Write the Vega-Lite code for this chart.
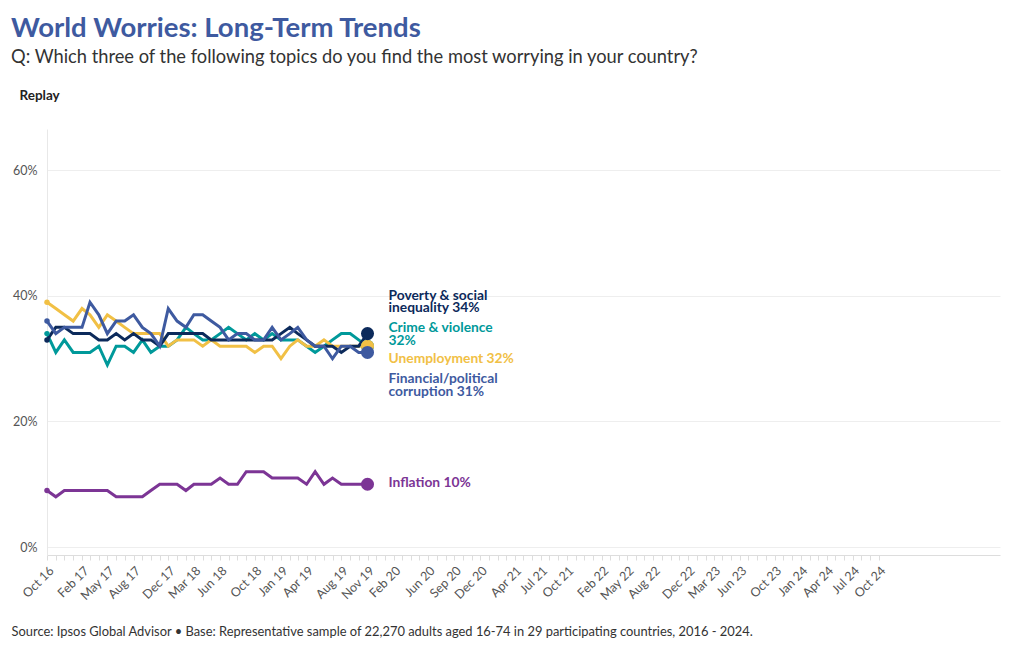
{
  "$schema": "https://vega.github.io/schema/vega-lite/v6.json",
  "width": 953,
  "height": 426,
  "padding": {"left": 11, "top": 14, "right": 10, "bottom": 5},
  "background": "white",
  "title": {
    "text": "World Worries: Long-Term Trends",
    "subtitle": "Q: Which three of the following topics do you find the most worrying in your country?",
    "anchor": "start",
    "frame": "bounds",
    "font": "Lato",
    "fontSize": 27.5,
    "fontWeight": "bold",
    "color": "#3e5aa0",
    "subtitleFont": "Lato",
    "subtitleFontSize": 18.3,
    "subtitleColor": "#333333",
    "subtitlePadding": 6.5,
    "offset": 22
  },
  "data": {
    "values": [
      {"date": "2016-10-01", "pov": 33, "crime": 34, "unemp": 39, "corr": 36, "infl": 9},
      {"date": "2016-11-01", "pov": 35, "crime": 31, "unemp": 38, "corr": 34, "infl": 8},
      {"date": "2016-12-01", "pov": 35, "crime": 33, "unemp": 37, "corr": 35, "infl": 9},
      {"date": "2017-01-01", "pov": 34, "crime": 31, "unemp": 36, "corr": 35, "infl": 9},
      {"date": "2017-02-01", "pov": 34, "crime": 31, "unemp": 38, "corr": 35, "infl": 9},
      {"date": "2017-03-01", "pov": 34, "crime": 31, "unemp": 37, "corr": 39, "infl": 9},
      {"date": "2017-04-01", "pov": 33, "crime": 32, "unemp": 35, "corr": 37, "infl": 9},
      {"date": "2017-05-01", "pov": 33, "crime": 29, "unemp": 37, "corr": 34, "infl": 9},
      {"date": "2017-06-01", "pov": 34, "crime": 32, "unemp": 36, "corr": 36, "infl": 8},
      {"date": "2017-07-01", "pov": 33, "crime": 32, "unemp": 35, "corr": 36, "infl": 8},
      {"date": "2017-08-01", "pov": 34, "crime": 31, "unemp": 34, "corr": 37, "infl": 8},
      {"date": "2017-09-01", "pov": 33, "crime": 33, "unemp": 34, "corr": 35, "infl": 8},
      {"date": "2017-10-01", "pov": 33, "crime": 31, "unemp": 34, "corr": 34, "infl": 9},
      {"date": "2017-11-01", "pov": 32, "crime": 32, "unemp": 34, "corr": 32, "infl": 10},
      {"date": "2017-12-01", "pov": 34, "crime": 32, "unemp": 32, "corr": 38, "infl": 10},
      {"date": "2018-01-01", "pov": 34, "crime": 33, "unemp": 33, "corr": 36, "infl": 10},
      {"date": "2018-02-01", "pov": 34, "crime": 35, "unemp": 33, "corr": 35, "infl": 9},
      {"date": "2018-03-01", "pov": 34, "crime": 34, "unemp": 33, "corr": 37, "infl": 10},
      {"date": "2018-04-01", "pov": 34, "crime": 33, "unemp": 32, "corr": 37, "infl": 10},
      {"date": "2018-05-01", "pov": 33, "crime": 33, "unemp": 33, "corr": 36, "infl": 10},
      {"date": "2018-06-01", "pov": 33, "crime": 34, "unemp": 32, "corr": 35, "infl": 11},
      {"date": "2018-07-01", "pov": 33, "crime": 35, "unemp": 32, "corr": 33, "infl": 10},
      {"date": "2018-08-01", "pov": 33, "crime": 34, "unemp": 32, "corr": 34, "infl": 10},
      {"date": "2018-09-01", "pov": 33, "crime": 33, "unemp": 32, "corr": 34, "infl": 12},
      {"date": "2018-10-01", "pov": 33, "crime": 34, "unemp": 31, "corr": 33, "infl": 12},
      {"date": "2018-11-01", "pov": 33, "crime": 33, "unemp": 32, "corr": 33, "infl": 12},
      {"date": "2018-12-01", "pov": 33, "crime": 34, "unemp": 32, "corr": 35, "infl": 11},
      {"date": "2019-01-01", "pov": 34, "crime": 33, "unemp": 30, "corr": 33, "infl": 11},
      {"date": "2019-02-01", "pov": 35, "crime": 33, "unemp": 32, "corr": 34, "infl": 11},
      {"date": "2019-03-01", "pov": 34, "crime": 33, "unemp": 33, "corr": 35, "infl": 11},
      {"date": "2019-04-01", "pov": 33, "crime": 32, "unemp": 32, "corr": 33, "infl": 10},
      {"date": "2019-05-01", "pov": 32, "crime": 31, "unemp": 32, "corr": 32, "infl": 12},
      {"date": "2019-06-01", "pov": 32, "crime": 32, "unemp": 33, "corr": 32, "infl": 10},
      {"date": "2019-07-01", "pov": 32, "crime": 33, "unemp": 32, "corr": 30, "infl": 11},
      {"date": "2019-08-01", "pov": 31, "crime": 34, "unemp": 32, "corr": 32, "infl": 10},
      {"date": "2019-09-01", "pov": 32, "crime": 34, "unemp": 32, "corr": 32, "infl": 10},
      {"date": "2019-10-01", "pov": 32, "crime": 33, "unemp": 32, "corr": 31, "infl": 10},
      {"date": "2019-11-01", "pov": 34, "crime": 32, "unemp": 32, "corr": 31, "infl": 10}
    ]
  },
  "transform": [
    {"fold": ["infl", "crime", "unemp", "pov", "corr"], "as": ["key", "value"]}
  ],
  "encoding": {
    "x": {
      "field": "date",
      "type": "temporal",
      "scale": {"type": "utc", "domain": [{"year": 2016, "month": 10, "date": 1, "utc": true}, {"year": 2025, "month": 12, "date": 1, "utc": true}]},
      "axis": {
        "values": {"expr": "utcSequence('month', utc(2016,9,1), utc(2024,9,2))"},
        "labelExpr": "indexof(['Oct 16','Feb 17','May 17','Aug 17','Dec 17','Mar 18','Jun 18','Oct 18','Jan 19','Apr 19','Aug 19','Nov 19','Feb 20','Jun 20','Sep 20','Dec 20','Apr 21','Jul 21','Oct 21','Feb 22','May 22','Aug 22','Dec 22','Mar 23','Jun 23','Oct 23','Jan 24','Apr 24','Jul 24','Oct 24'], utcFormat(datum.value, '%b %y')) >= 0 ? utcFormat(datum.value, '%b %y') : ''",
        "labelAngle": -45,
        "labelAlign": "right",
        "labelBaseline": "top",
        "labelOverlap": false,
        "labelFlush": false,
        "labelBound": false,
        "labelPadding": 4,
        "labelFont": "Lato",
        "labelFontSize": 12.5,
        "labelColor": "#555555",
        "grid": false,
        "domainColor": "#dddddd",
        "tickColor": "#dddddd",
        "tickSize": 5,
        "title": "Source: Ipsos Global Advisor • Base: Representative sample of 22,270 adults aged 16-74 in 29 participating countries, 2016 - 2024.",
        "titleFont": "Lato",
        "titleFontSize": 12.9,
        "titleFontWeight": "normal",
        "titleColor": "#333333",
        "titleAnchor": "start",
        "titleAlign": "left",
        "titleBaseline": "alphabetic",
        "titleX": -36,
        "titleY": 80
      }
    },
    "y": {
      "field": "value",
      "type": "quantitative",
      "scale": {"domain": [-1.27, 66.6], "nice": false, "zero": false},
      "axis": {
        "values": [0, 20, 40, 60],
        "labelExpr": "datum.value + '%'",
        "labelFont": "Lato",
        "labelFontSize": 12.5,
        "labelColor": "#555555",
        "labelPadding": 10,
        "ticks": false,
        "domain": true,
        "domainColor": "#e8e8e8",
        "gridColor": "#eeeeee",
        "title": "Replay",
        "titleAngle": 0,
        "titleAlign": "left",
        "titleBaseline": "middle",
        "titleFont": "Lato",
        "titleFontSize": 13.5,
        "titleFontWeight": "bold",
        "titleColor": "#222222",
        "titleX": -28,
        "titleY": -34
      }
    },
    "color": {
      "field": "key",
      "type": "nominal",
      "scale": {
        "domain": ["pov", "crime", "unemp", "corr", "infl"],
        "range": ["#0c2a5b", "#00999a", "#f1c045", "#3e5aa0", "#7c3595"]
      },
      "legend": null
    }
  },
  "layer": [
    {"mark": {"type": "line", "strokeWidth": 3, "interpolate": "linear"}},
    {
      "transform": [
        {"window": [{"op": "row_number", "as": "rn"}], "sort": [{"field": "date", "order": "ascending"}], "groupby": ["key"]},
        {"filter": "datum.rn == 1"}
      ],
      "mark": {"type": "circle", "size": 30, "opacity": 1}
    },
    {
      "transform": [
        {"window": [{"op": "row_number", "as": "rn"}], "sort": [{"field": "date", "order": "descending"}], "groupby": ["key"]},
        {"filter": "datum.rn == 1"}
      ],
      "mark": {"type": "circle", "size": 170, "opacity": 1}
    },
    {
      "transform": [
        {"window": [{"op": "row_number", "as": "rn"}], "sort": [{"field": "date", "order": "descending"}], "groupby": ["key"]},
        {"filter": "datum.rn == 1 && datum.key == 'pov'"}
      ],
      "mark": {"type": "text", "text": "Poverty & social\ninequality 34%", "lineBreak": "\n", "lineHeight": 12.5, "align": "left", "baseline": "middle", "dx": 21, "dy": -38, "font": "Lato", "fontSize": 13.8, "fontWeight": "bold"}
    },
    {
      "transform": [
        {"window": [{"op": "row_number", "as": "rn"}], "sort": [{"field": "date", "order": "descending"}], "groupby": ["key"]},
        {"filter": "datum.rn == 1 && datum.key == 'crime'"}
      ],
      "mark": {"type": "text", "text": "Crime & violence\n32%", "lineBreak": "\n", "lineHeight": 12.5, "align": "left", "baseline": "middle", "dx": 21, "dy": -18, "font": "Lato", "fontSize": 13.8, "fontWeight": "bold"}
    },
    {
      "transform": [
        {"window": [{"op": "row_number", "as": "rn"}], "sort": [{"field": "date", "order": "descending"}], "groupby": ["key"]},
        {"filter": "datum.rn == 1 && datum.key == 'unemp'"}
      ],
      "mark": {"type": "text", "text": "Unemployment 32%", "align": "left", "baseline": "middle", "dx": 21, "dy": 13, "font": "Lato", "fontSize": 13.8, "fontWeight": "bold"}
    },
    {
      "transform": [
        {"window": [{"op": "row_number", "as": "rn"}], "sort": [{"field": "date", "order": "descending"}], "groupby": ["key"]},
        {"filter": "datum.rn == 1 && datum.key == 'corr'"}
      ],
      "mark": {"type": "text", "text": "Financial/political\ncorruption 31%", "lineBreak": "\n", "lineHeight": 12.5, "align": "left", "baseline": "middle", "dx": 21, "dy": 27, "font": "Lato", "fontSize": 13.8, "fontWeight": "bold"}
    },
    {
      "transform": [
        {"window": [{"op": "row_number", "as": "rn"}], "sort": [{"field": "date", "order": "descending"}], "groupby": ["key"]},
        {"filter": "datum.rn == 1 && datum.key == 'infl'"}
      ],
      "mark": {"type": "text", "text": "Inflation 10%", "align": "left", "baseline": "middle", "dx": 21, "dy": -1, "font": "Lato", "fontSize": 13.8, "fontWeight": "bold"}
    }
  ],
  "config": {
    "view": {"stroke": null}
  }
}
